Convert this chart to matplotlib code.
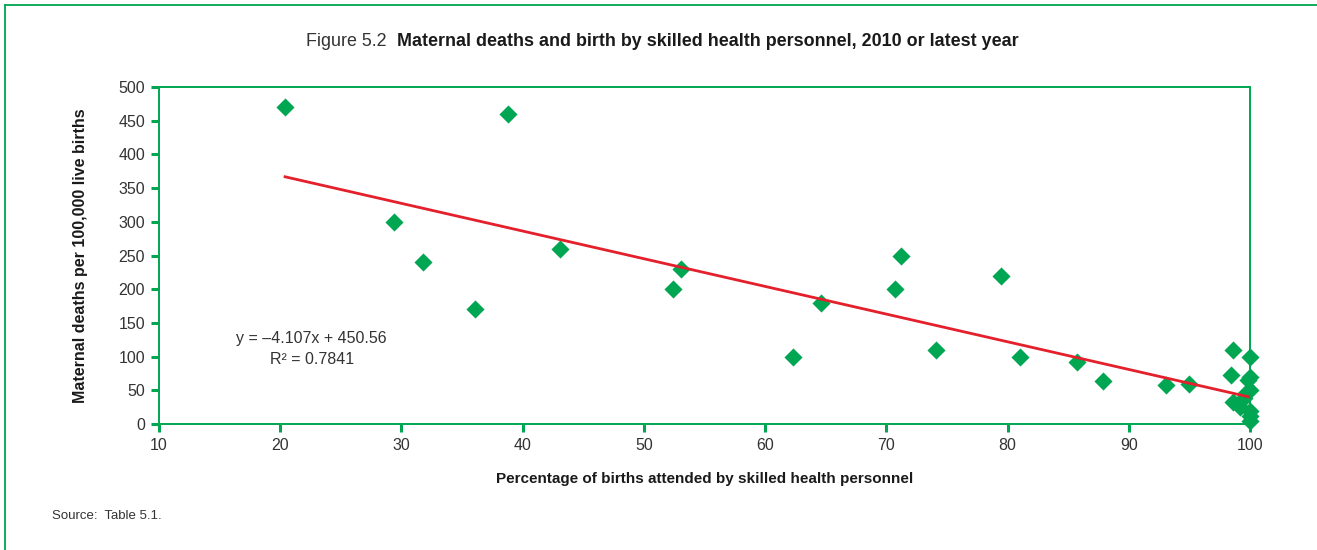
import matplotlib
matplotlib.use("Agg")
import matplotlib.pyplot as plt
from matplotlib.lines import Line2D
import numpy as np

# Percentage of births attended by skilled health personnel
skilled_pct = [20.4, 38.8, 29.4, 31.8, 36.1, 43.1, 52.4, 53.1, 62.3, 64.6,
               70.7, 71.2, 74.1, 79.5, 81.0, 85.7, 87.9, 93.1, 95.0,
               98.6, 100.0, 98.4, 99.8, 100.0, 99.6, 100.0, 98.6, 99.2,
               100.0, 100.0, 100.0, 99.5]
# Maternal deaths per 100,000 live births
maternal_deaths = [470, 460, 300, 240, 170, 260, 200, 230, 100, 180,
                   200, 250, 110, 220, 100, 92, 64, 58, 60,
                   110, 100, 72, 65, 70, 45, 50, 32, 25,
                   20, 12, 5, 38]

slope, intercept = -4.107, 450.56
r_squared = 0.7841

x_ticks = list(range(10, 101, 10))
y_ticks = list(range(0, 501, 50))

GREEN = "#00A651"
RED = "#E3202B"
TEXT = "#333333"
FONT = ["Liberation Sans Narrow", "Liberation Sans", "DejaVu Sans"]

plt.rcParams["font.family"] = FONT

fig = plt.figure(figsize=(13.17, 5.5), dpi=100)
ax = fig.add_axes([159 / 1317, 1 - 424 / 550, (1250 - 159) / 1317, (424 - 87) / 550])

ax.scatter(skilled_pct, maternal_deaths, marker="D", s=85, color=GREEN,
           linewidths=0, zorder=3, clip_on=False)

xs = np.array([min(skilled_pct), max(skilled_pct)])
ax.plot(xs, slope * xs + intercept, color=RED, lw=2.0, zorder=4)

ax.set_xlim(10, 100)
ax.set_ylim(0, 500)
ax.set_xticks(x_ticks)
ax.set_yticks(y_ticks)
for s in ax.spines.values():
    s.set_color(GREEN)
    s.set_linewidth(1.4)
ax.tick_params(axis="both", colors=GREEN, labelcolor=TEXT, labelsize=11.5,
               length=6, width=2.2, direction="out")
ax.tick_params(axis="y", pad=4)
ax.tick_params(axis="x", pad=4)

ax.set_xlabel("Percentage of births attended by skilled health personnel",
              fontsize=11, fontweight="bold", color="#1a1a1a", labelpad=14)
ax.set_ylabel("Maternal deaths per 100,000 live births",
              fontsize=11.5, fontweight="bold", color="#1a1a1a", labelpad=22)

ax.text(22.6, 111, f"y = \u20134.107x + {intercept:.2f}\nR\u00b2 = {r_squared}",
        ha="center", va="center", fontsize=11.5, color=TEXT, linespacing=1.5)

fig.text(386 / 1317, 1 - 42 / 550, "Figure 5.2", ha="right", va="center",
         fontsize=12.9, color=TEXT)
fig.text(397 / 1317, 1 - 42 / 550,
         "Maternal deaths and birth by skilled health personnel, 2010 or latest year",
         ha="left", va="center", fontsize=12.9, fontweight="bold", color="#1a1a1a")

fig.text(52 / 1317, 1 - 516 / 550, "Source:  Table 5.1.", ha="left", va="center",
         fontsize=9.5, color=TEXT)

# frame around the figure panel
fig.add_artist(Line2D([5 / 1317, 5 / 1317], [0, 1 - 5 / 550], color=GREEN, lw=1.3,
                      transform=fig.transFigure))
fig.add_artist(Line2D([5 / 1317, 1], [1 - 5 / 550, 1 - 5 / 550], color=GREEN, lw=1.3,
                      transform=fig.transFigure))

fig.savefig("out.png", dpi=100)
